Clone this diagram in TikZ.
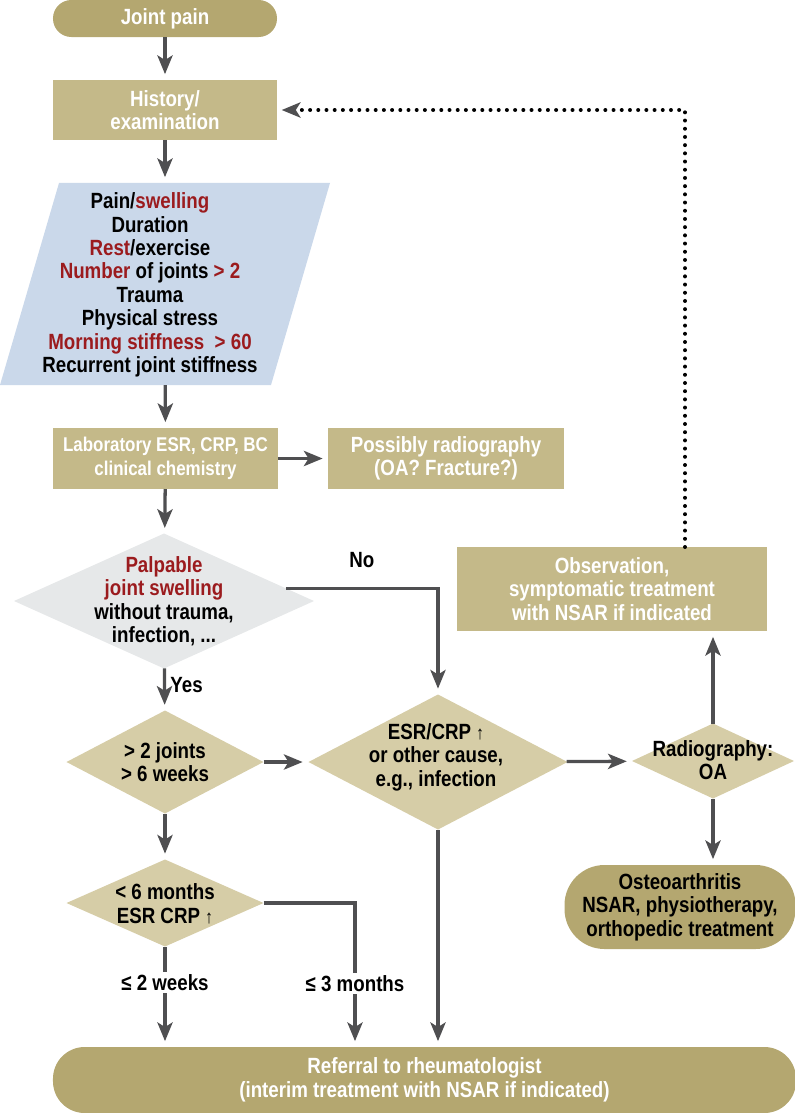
\documentclass[tikz,border=0pt]{standalone}
\usepackage{fontspec}
\setmainfont{Liberation Sans}[FakeStretch=0.85]
\usetikzlibrary{shapes.geometric, arrows.meta}

\definecolor{boxtan}{RGB}{196,185,137}
\definecolor{termtan}{RGB}{180,167,112}
\definecolor{diatan}{RGB}{214,205,167}
\definecolor{diagray}{RGB}{230,232,233}
\definecolor{parablue}{RGB}{202,216,234}
\definecolor{darkred}{RGB}{155,27,30}
\definecolor{arrgray}{RGB}{79,79,81}

\newcommand{\rd}[1]{\textcolor{darkred}{#1}}
\newcommand{\uparr}{{\mdseries\fontsize{16}{16}\selectfont ↑}}

\begin{document}
\begin{tikzpicture}[x=0.03cm, y=-0.03cm,
    every node/.style={font=\bfseries\fontsize{18.8}{20}\selectfont, align=center, outer sep=0pt},
    tanbox/.style={rectangle, fill=boxtan, text=white, minimum width=6.72cm, minimum height=1.8cm},
    stadium/.style={rectangle, fill=termtan, rounded corners=0.55cm},
    decision/.style={diamond, fill=diatan, inner sep=0pt},
    branchlbl/.style={text=black, inner sep=2pt},
    flow/.style={draw=arrgray, line width=2.8pt, -{Stealth[length=16pt, width=13pt, inset=4pt]}, shorten >=5pt},
    loopback/.style={draw=black, line width=3.4pt, line cap=round, dash pattern=on 0pt off 7pt,
        -{Stealth[color=arrgray, length=16pt, width=13pt, inset=4pt]}, shorten >=4pt}]
    \useasboundingbox (0,0) rectangle (795,1113);

    % left column
    \node[stadium, text=white, minimum width=6.72cm, minimum height=1.11cm] (pain) at (165,18.5) {Joint pain};
    \node[tanbox] (hist) at (165,110) {History/\\examination};
    \node[rectangle, minimum width=9.9cm, minimum height=6.06cm, inner sep=0pt] (symp) at (165,284) {};
    \fill[parablue] ([xshift=1.77cm]symp.north west) -- (symp.north east)
        -- ([xshift=-1.77cm]symp.south east) -- (symp.south west) -- cycle;
    \node (symptxt) at (150,285) {Pain/\rd{swelling}\\Duration\\\rd{Rest}/exercise\\\rd{Number} of joints \rd{> 2}\\Trauma\\Physical stress\\\rd{Morning stiffness\ \ > 60}\\Recurrent joint stiffness};
    \node[tanbox, minimum width=6.75cm, minimum height=1.83cm, font=\bfseries\fontsize{17}{20}\selectfont] (lab) at (165.5,458.5) {Laboratory ESR, CRP, BC\\clinical chemistry};
    \node[tanbox, minimum width=7.05cm, minimum height=1.83cm] (xray) at (446,458.5) {Possibly radiography\\(OA? Fracture?)};

    \node[decision, fill=diagray, minimum width=9cm, minimum height=4.05cm] (swell) at (164,601) {};
    \node (swelltxt) at (164,601) {\rd{Palpable}\\\rd{joint swelling}\\without trauma,\\infection, ...};
    \node[decision, minimum width=5.91cm, minimum height=3.09cm] (joints) at (165,762) {};
    \node (jointstxt) at (165,762) {> 2 joints\\> 6 weeks};
    \node[decision, minimum width=5.91cm, minimum height=2.61cm] (early) at (165,903) {};
    \node (earlytxt) at (165,904) {< 6 months\\ESR CRP \uparr};

    % middle and right
    \node[decision, minimum width=7.77cm, minimum height=4.05cm] (cause) at (438,762) {};
    \node (causetxt) at (436,757) {ESR/CRP \uparr\\or other cause,\\e.g., infection};
    \node[decision, minimum width=4.86cm, minimum height=2.25cm] (oa) at (713,761) {};
    \node (oatxt) at (713,760) {Radiography:\\OA};
    \node[tanbox, minimum width=9.3cm, minimum height=2.52cm] (obs) at (612,589) {Observation,\\symptomatic treatment\\with NSAR if indicated};
    \node[stadium, minimum width=6.93cm, minimum height=2.52cm, rounded corners=1.2cm] (osteo) at (680,907) {Osteoarthritis\\NSAR, physiotherapy,\\orthopedic treatment};
    \node[stadium, text=white, minimum width=22.29cm, minimum height=1.98cm, rounded corners=0.95cm] (refer) at (424.5,1080) {Referral to rheumatologist\\(interim treatment with NSAR if indicated)};

    \coordinate (bend) at (685,110);
    \coordinate (mid3) at (355,1000);

    \draw[flow] (pain) -- (hist);
    \draw[flow] (hist) -- (symp);
    \draw[flow] (symp) -- (lab);
    \draw[flow] (lab) -- (xray);
    \draw[flow] (lab) -- (swell);
    \draw[flow] (swell.6) -| node[branchlbl, pos=0.25, above=0.55cm] {No} (cause.north);
    \draw[flow] (swell) -- node[branchlbl, right, pos=0.4, xshift=3pt] {Yes} (joints);
    \draw[flow] (joints) -- (cause);
    \draw[flow] (cause) -- (oa);
    \draw[flow] (oa) -- (oa |- obs.south);
    \draw[flow] (oa) -- (oa |- osteo.north);
    \draw[flow] (joints) -- (early);
    \draw[flow] (early) -- node[branchlbl, fill=white, pos=0.36] {≤ 2 weeks} (early |- refer.north);
    \draw[flow] (early.east) -| node[branchlbl, fill=white, pos=0.78] {≤ 3 months} (mid3 |- refer.north);
    \draw[flow] (cause) -- (cause |- refer.north);
    \draw[loopback] (bend |- obs.north) -- (bend) -- (hist.east);
\end{tikzpicture}
\end{document}
